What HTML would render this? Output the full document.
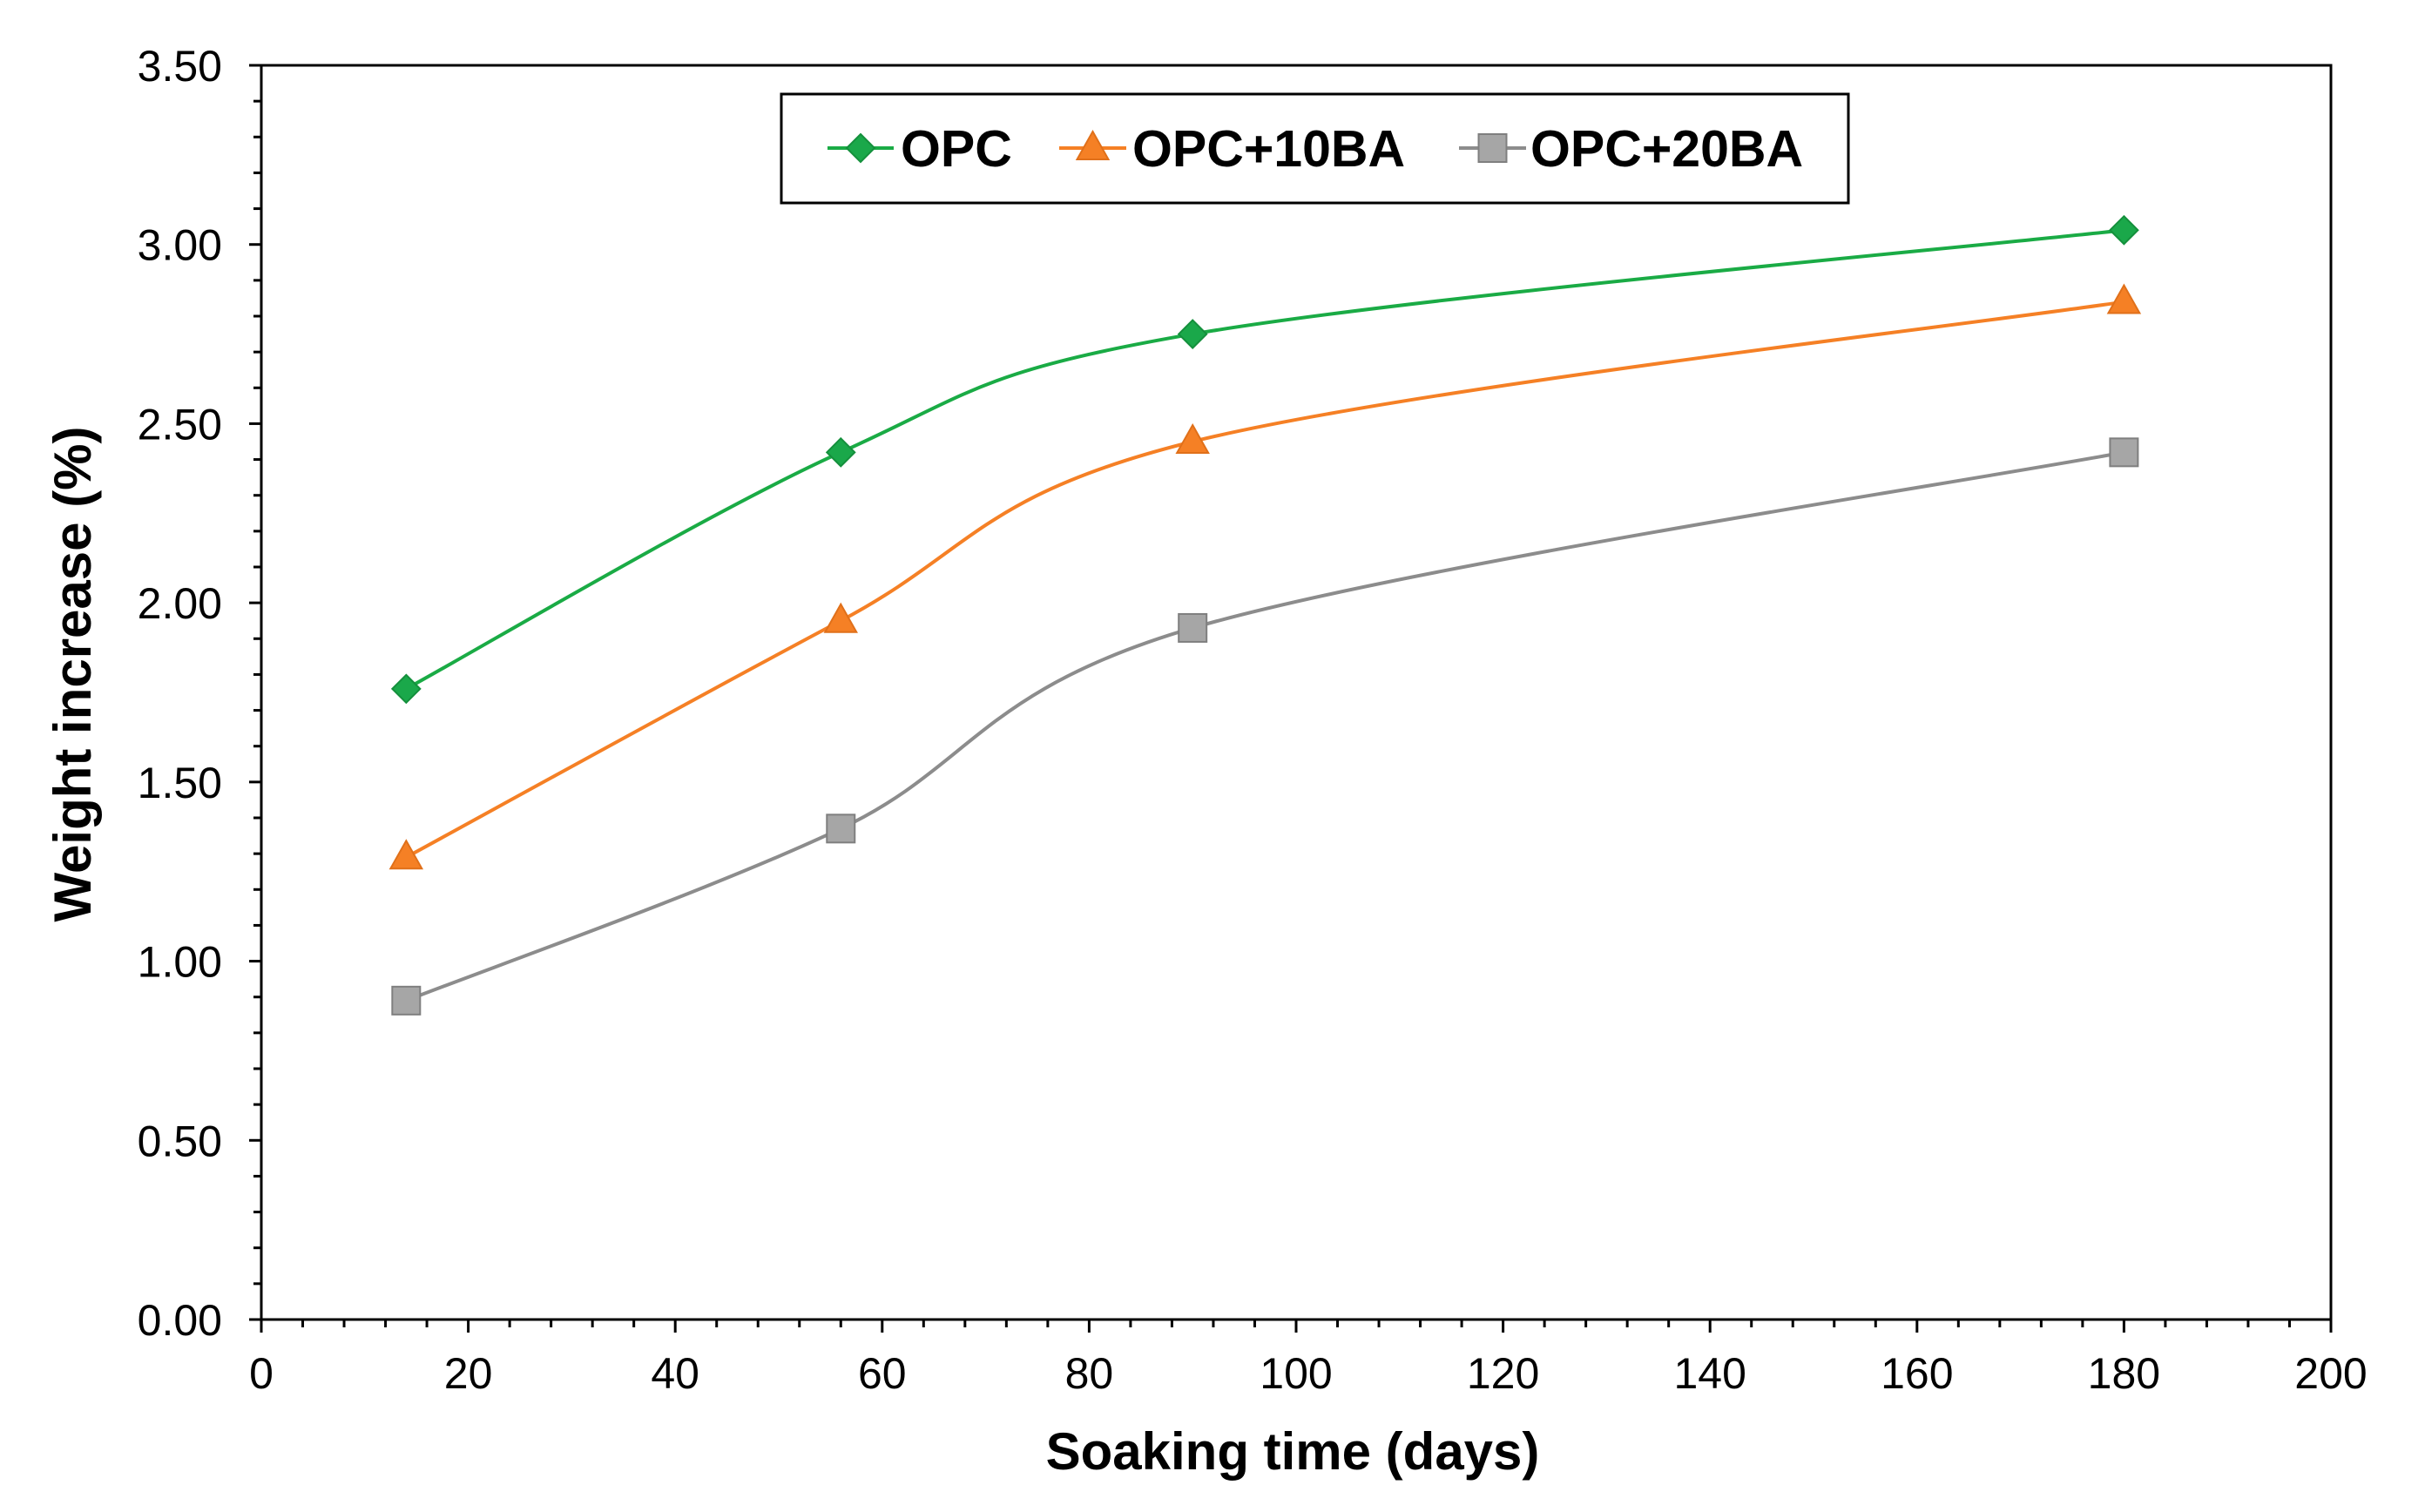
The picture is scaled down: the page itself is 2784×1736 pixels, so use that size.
<!DOCTYPE html>
<html><head><meta charset="utf-8">
<style>
html,body{margin:0;padding:0;background:#fff;}
svg{display:block;font-family:"Liberation Sans",Arial,sans-serif;}
</style></head>
<body>
<svg id="chart" width="2784" height="1736" viewBox="0 0 2784 1736" xmlns="http://www.w3.org/2000/svg">
<rect x="0" y="0" width="2784" height="1736" fill="#fff"/>
<g id="axes"></g>
<g id="series"></g>
<g id="legend"></g>
<text x="0" y="0" transform="translate(104,774) rotate(-90)" text-anchor="middle" font-size="60" font-weight="bold">Weight increase (%)</text>
<text x="1484" y="1687" text-anchor="middle" font-size="60" font-weight="bold">Soaking time (days)</text>
</svg>
<script>
const days = [14, 56, 90, 180];
const opc = [1.76, 2.42, 2.75, 3.04];
const opc10 = [1.29, 1.95, 2.45, 2.84];
const opc20 = [0.89, 1.37, 1.93, 2.42];
const seriesNames = ["OPC", "OPC+10BA", "OPC+20BA"];
const xTicks = [0, 20, 40, 60, 80, 100, 120, 140, 160, 180, 200];
const yTicks = ["0.00", "0.50", "1.00", "1.50", "2.00", "2.50", "3.00", "3.50"];

const NS = "http://www.w3.org/2000/svg";
const L = 300, R = 2676, T = 75, B = 1515;
const xMax = 200, yMax = 3.5;
function xs(v){ return L + (v / xMax) * (R - L); }
function ys(v){ return B - (v / yMax) * (B - T); }
function mk(tag, attrs, parent){
  const e = document.createElementNS(NS, tag);
  for (const k in attrs) e.setAttribute(k, attrs[k]);
  parent.appendChild(e);
  return e;
}
const axes = document.getElementById('axes');
const frame = mk('rect', {x:L, y:T, width:R-L, height:B-T, fill:'none', stroke:'#000', 'stroke-width':3}, axes);



for (let v = 0; v <= yMax + 1e-9; v += 0.1) {
  const y = ys(v);
  const major = Math.abs(v * 2 - Math.round(v * 2)) < 1e-6;
  const t = mk('line', {x1:L - (major ? 14 : 9), x2:L, y1:y, y2:y, stroke:'#000', 'stroke-width':3}, axes);
  
  
}
yTicks.forEach(s => {
  const t = mk('text', {x:255, y:ys(parseFloat(s)) + 18, 'text-anchor':'end', 'font-size':50}, axes);
  t.textContent = s;
  
  
});
for (let v = 0; v <= xMax; v += 4) {
  const x = xs(v);
  const major = v % 20 === 0;
  const t = mk('line', {x1:x, x2:x, y1:B, y2:B + (major ? 15 : 9), stroke:'#000', 'stroke-width':3}, axes);
  
  
}
xTicks.forEach(v => {
  const t = mk('text', {x:xs(v), y:1594, 'text-anchor':'middle', 'font-size':50}, axes);
  t.textContent = String(v);
  
  
});

function smoothPath(xv, yv){
  const p = xv.map((x, i) => [xs(x), ys(yv[i])]);
  let d = `M${p[0][0]},${p[0][1]}`;
  for (let i = 0; i < p.length - 1; i++) {
    const p0 = p[i-1] || p[i], p1 = p[i], p2 = p[i+1], p3 = p[i+2] || p[i+1];
    const t = 1 / 3;
    const c1 = [p1[0] + (p2[0]-p0[0]) * t / 2, p1[1] + (p2[1]-p0[1]) * t / 2];
    const c2 = [p2[0] - (p3[0]-p1[0]) * t / 2, p2[1] - (p3[1]-p1[1]) * t / 2];
    d += ` C${c1[0]},${c1[1]} ${c2[0]},${c2[1]} ${p2[0]},${p2[1]}`;
  }
  return d;
}
function marker(parent, kind, x, y){
  let e;
  if (kind === 'diamond') {
    e = mk('polygon', {points:`${x},${y-16} ${x+16},${y} ${x},${y+16} ${x-16},${y}`, fill:'#1aa84a', stroke:'#14903c', 'stroke-width':2}, parent);
  } else if (kind === 'triangle') {
    e = mk('polygon', {points:`${x},${y-19} ${x+18},${y+13} ${x-18},${y+13}`, fill:'#f58025', stroke:'#e0701a', 'stroke-width':2}, parent);
  } else {
    e = mk('rect', {x:x-16, y:y-16, width:32, height:32, fill:'#a6a6a6', stroke:'#7f7f7f', 'stroke-width':2}, parent);
  }
  return e;
}
const colors = ['#1aab45', '#f58025', '#8c8c8c'];
const kinds = ['diamond', 'triangle', 'square'];
const allSeries = [opc, opc10, opc20];
const sg = document.getElementById('series');
allSeries.forEach((vals, si) => {
  const g = mk('g', {}, sg);
  
  
  const path = mk('path', {d:smoothPath(days, vals), fill:'none', stroke:colors[si], 'stroke-width':4}, g);
  
  
  vals.forEach((v, i) => {
    const m = marker(g, kinds[si], xs(days[i]), ys(v));
    
    
  });
});

const lg = document.getElementById('legend');
const box = mk('rect', {x:897, y:108, width:1225, height:125, fill:'#fff', stroke:'#000', 'stroke-width':3}, lg);


const legX = [[950, 1026, 1034], [1216, 1293, 1300], [1675, 1752, 1757]];
seriesNames.forEach((n, i) => {
  const g = mk('g', {}, lg);
  
  
  const ln = mk('line', {x1:legX[i][0], x2:legX[i][1], y1:170, y2:170, stroke:colors[i], 'stroke-width':4}, g);
  
  
  const m = marker(g, kinds[i], (legX[i][0] + legX[i][1]) / 2, 170);
  
  
  const t = mk('text', {x:legX[i][2], y:191, 'font-size':59, 'font-weight':'bold'}, g);
  t.textContent = n;
  
  
});
</script>
</body></html>
